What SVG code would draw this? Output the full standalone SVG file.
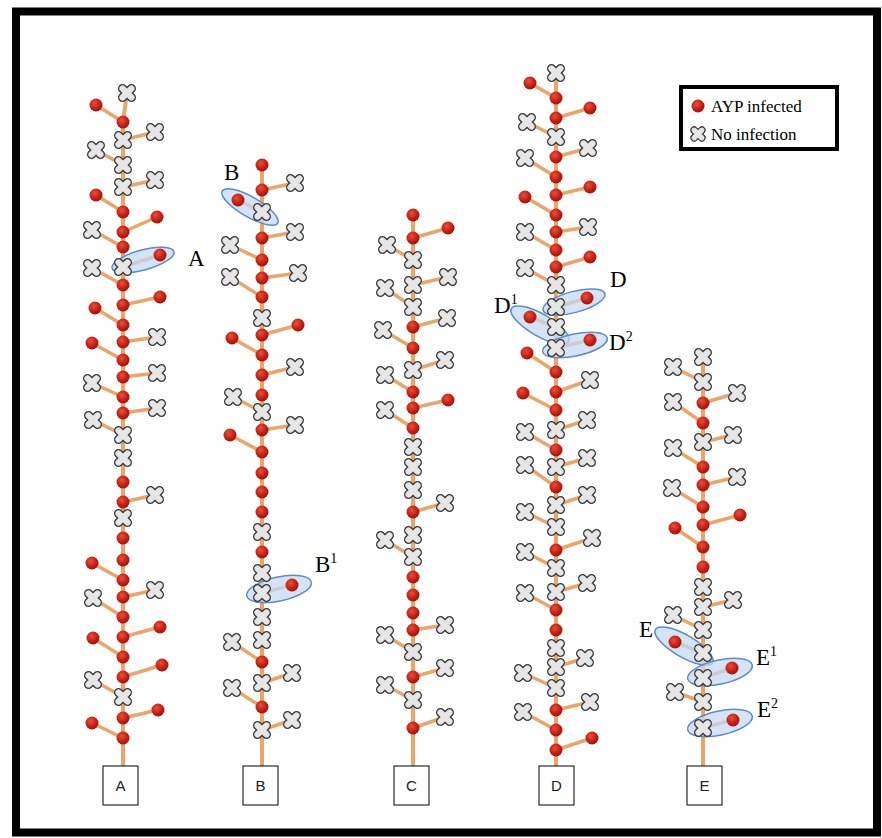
<svg xmlns="http://www.w3.org/2000/svg" xmlns:xlink="http://www.w3.org/1999/xlink" width="882" height="838" viewBox="0 0 882 838">
<style>
.st{stroke:#EBA56B;stroke-width:4;fill:none;stroke-linecap:round}
.br{stroke:#EBA56B;stroke-width:3.5;fill:none;stroke-linecap:round}
.hl{fill:#C6D9F1;fill-opacity:0.75;stroke:#5B8BC9;stroke-width:1.5}
.lbl{font-family:"Liberation Serif",serif;font-size:23px;fill:#000}
.sup{font-size:14px}
.box{fill:#fff;stroke:#000;stroke-width:1}
.bt{font-family:"Liberation Sans",sans-serif;font-size:15px;text-anchor:middle;fill:#222}
.lg{font-family:"Liberation Serif",serif;font-size:17px;fill:#000}
</style>
<defs>
<radialGradient id="rg" cx="0.4" cy="0.35" r="0.7">
<stop offset="0" stop-color="#E8503A"/>
<stop offset="0.6" stop-color="#C61E14"/>
<stop offset="1" stop-color="#9A1008"/>
</radialGradient>
<g id="R"><circle r="6.5" fill="url(#rg)"/></g>
<g id="X">
<path d="M-4.5,-4.5L4.5,4.5M4.5,-4.5L-4.5,4.5" stroke="#3A3A3A" stroke-width="9" stroke-linecap="round" fill="none"/>
<path d="M-4.5,-4.5L4.5,4.5M4.5,-4.5L-4.5,4.5" stroke="#E6E6E6" stroke-width="6.2" stroke-linecap="round" fill="none"/>
</g>
</defs>
<rect x="0" y="0" width="882" height="838" fill="#fff"/>
<rect x="16" y="11.5" width="861" height="821" fill="none" stroke="#000" stroke-width="8"/>

<g id="connectors">
<!-- A -->
<polyline class="st" points="127,93 123,122 123,766"/>
<path class="br" d="M96,105L123,122"/><path class="br" d="M123,140L155,132"/><path class="br" d="M96,150L123,165"/><path class="br" d="M123,187L155,180"/>
<path class="br" d="M96,195L123,212"/><path class="br" d="M123,232L157,217"/><path class="br" d="M92,230L123,247"/><path class="br" d="M123,267L160,255"/>
<path class="br" d="M92,268L123,285"/><path class="br" d="M123,305L160,297"/><path class="br" d="M95,308L123,325"/><path class="br" d="M123,342L157,337"/>
<path class="br" d="M92,343L123,360"/><path class="br" d="M123,377L157,373"/><path class="br" d="M92,383L123,397"/><path class="br" d="M123,413L157,408"/>
<path class="br" d="M93,420L123,435"/><path class="br" d="M123,502L155,495"/><path class="br" d="M92,563L123,580"/><path class="br" d="M123,597L155,590"/>
<path class="br" d="M93,598L123,617"/><path class="br" d="M123,637L160,627"/><path class="br" d="M93,638L123,657"/><path class="br" d="M123,677L162,665"/>
<path class="br" d="M93,680L123,697"/><path class="br" d="M123,718L158,710"/><path class="br" d="M92,723L123,738"/>
<!-- B -->
<line class="st" x1="262" y1="165" x2="262" y2="766"/>
<path class="br" d="M262,190L295,183"/><path class="br" d="M238,200L262,212"/><path class="br" d="M262,238L295,232"/><path class="br" d="M230,245L262,260"/>
<path class="br" d="M262,278L298,273"/><path class="br" d="M230,277L262,297"/><path class="br" d="M262,335L298,325"/><path class="br" d="M232,338L262,355"/>
<path class="br" d="M262,375L295,367"/><path class="br" d="M233,397L262,412"/><path class="br" d="M262,430L295,425"/><path class="br" d="M230,435L262,452"/>
<path class="br" d="M262,593L292,585"/><path class="br" d="M232,642L262,662"/><path class="br" d="M262,683L292,673"/><path class="br" d="M232,688L262,707"/>
<path class="br" d="M262,730L292,720"/>
<!-- C -->
<line class="st" x1="413" y1="215" x2="413" y2="766"/>
<path class="br" d="M413,238L448,228"/><path class="br" d="M387,245L413,260"/><path class="br" d="M413,285L448,277"/><path class="br" d="M385,288L413,307"/>
<path class="br" d="M413,327L447,318"/><path class="br" d="M383,330L413,348"/><path class="br" d="M413,370L445,360"/><path class="br" d="M385,375L413,392"/>
<path class="br" d="M413,408L448,400"/><path class="br" d="M385,410L413,428"/><path class="br" d="M413,512L445,503"/><path class="br" d="M385,540L413,557"/>
<path class="br" d="M413,630L445,625"/><path class="br" d="M385,635L413,652"/><path class="br" d="M413,677L445,668"/><path class="br" d="M385,685L413,700"/>
<path class="br" d="M413,728L445,717"/>
<!-- D -->
<line class="st" x1="556" y1="73" x2="556" y2="766"/>
<path class="br" d="M530,83L556,98"/><path class="br" d="M556,118L590,108"/><path class="br" d="M527,122L556,137"/><path class="br" d="M556,157L588,148"/>
<path class="br" d="M525,158L556,177"/><path class="br" d="M556,195L590,187"/><path class="br" d="M525,197L556,215"/><path class="br" d="M556,232L588,227"/>
<path class="br" d="M525,232L556,250"/><path class="br" d="M556,267L590,257"/><path class="br" d="M525,268L556,285"/><path class="br" d="M556,307L587,298"/>
<path class="br" d="M530,317L556,327"/><path class="br" d="M556,348L590,340"/><path class="br" d="M527,353L556,372"/><path class="br" d="M556,392L590,380"/>
<path class="br" d="M523,393L556,410"/><path class="br" d="M556,430L587,420"/><path class="br" d="M525,432L556,450"/><path class="br" d="M556,467L587,458"/>
<path class="br" d="M525,465L556,487"/><path class="br" d="M556,505L587,495"/><path class="br" d="M525,512L556,527"/><path class="br" d="M556,550L592,538"/>
<path class="br" d="M525,552L556,568"/><path class="br" d="M556,592L587,583"/><path class="br" d="M525,593L556,610"/><path class="br" d="M556,667L585,658"/>
<path class="br" d="M523,673L556,688"/><path class="br" d="M556,710L590,702"/><path class="br" d="M523,712L556,730"/><path class="br" d="M556,750L592,738"/>
<!-- E -->
<line class="st" x1="703" y1="357" x2="703" y2="766"/>
<path class="br" d="M673,367L703,382"/><path class="br" d="M703,403L737,393"/><path class="br" d="M673,402L703,423"/><path class="br" d="M703,442L733,435"/>
<path class="br" d="M673,448L703,467"/><path class="br" d="M703,485L737,477"/><path class="br" d="M672,488L703,507"/><path class="br" d="M703,525L740,515"/>
<path class="br" d="M675,528L703,547"/><path class="br" d="M703,607L733,600"/><path class="br" d="M673,615L703,630"/><path class="br" d="M675,642L703,653"/>
<path class="br" d="M703,678L732,668"/><path class="br" d="M675,692L703,702"/><path class="br" d="M703,728L733,720"/>
</g>

<g id="highlights">
<ellipse class="hl" cx="143" cy="260" rx="32" ry="10" transform="rotate(-15 143 260)"/>
<ellipse class="hl" cx="250" cy="207" rx="32" ry="10" transform="rotate(30 250 207)"/>
<ellipse class="hl" cx="279" cy="589" rx="33" ry="12" transform="rotate(-12 279 589)"/>
<ellipse class="hl" cx="574" cy="302" rx="32" ry="10.5" transform="rotate(-15 574 302)"/>
<ellipse class="hl" cx="540" cy="325" rx="33" ry="11" transform="rotate(30 540 325)"/>
<ellipse class="hl" cx="575" cy="345" rx="33" ry="11" transform="rotate(-12 575 345)"/>
<ellipse class="hl" cx="684" cy="646" rx="33" ry="11" transform="rotate(30 684 646)"/>
<ellipse class="hl" cx="720" cy="672" rx="33" ry="12" transform="rotate(-12 720 672)"/>
<ellipse class="hl" cx="720" cy="723" rx="33" ry="12" transform="rotate(-12 720 723)"/>
</g>

<g id="plant-A">
<g id="A-b1"><use href="#R" x="96" y="105"/></g><g id="A-b2"><use href="#X" x="155" y="132"/></g><g id="A-b3"><use href="#X" x="96" y="150"/></g><g id="A-b4"><use href="#X" x="155" y="180"/></g>
<g id="A-b5"><use href="#R" x="96" y="195"/></g><g id="A-b6"><use href="#R" x="157" y="217"/></g><g id="A-b7"><use href="#X" x="92" y="230"/></g><g id="A-b8"><use href="#R" x="160" y="255"/></g>
<g id="A-b9"><use href="#X" x="92" y="268"/></g><g id="A-b10"><use href="#R" x="160" y="297"/></g><g id="A-b11"><use href="#R" x="95" y="308"/></g><g id="A-b12"><use href="#X" x="157" y="337"/></g>
<g id="A-b13"><use href="#R" x="92" y="343"/></g><g id="A-b14"><use href="#X" x="157" y="373"/></g><g id="A-b15"><use href="#X" x="92" y="383"/></g><g id="A-b16"><use href="#X" x="157" y="408"/></g>
<g id="A-b17"><use href="#X" x="93" y="420"/></g><g id="A-b18"><use href="#X" x="155" y="495"/></g><g id="A-b19"><use href="#R" x="92" y="563"/></g><g id="A-b20"><use href="#X" x="155" y="590"/></g>
<g id="A-b21"><use href="#X" x="93" y="598"/></g><g id="A-b22"><use href="#R" x="160" y="627"/></g><g id="A-b23"><use href="#R" x="93" y="638"/></g><g id="A-b24"><use href="#R" x="162" y="665"/></g>
<g id="A-b25"><use href="#X" x="93" y="680"/></g><g id="A-b26"><use href="#R" x="158" y="710"/></g><g id="A-b27"><use href="#R" x="92" y="723"/></g>
<g id="A-s1"><use href="#X" x="127" y="93"/></g><g id="A-s2"><use href="#R" x="123" y="122"/></g><g id="A-s3"><use href="#X" x="123" y="140"/></g><g id="A-s4"><use href="#X" x="123" y="165"/></g>
<g id="A-s5"><use href="#X" x="123" y="187"/></g><g id="A-s6"><use href="#R" x="123" y="212"/></g><g id="A-s7"><use href="#R" x="123" y="232"/></g><g id="A-s8"><use href="#R" x="123" y="247"/></g>
<g id="A-s9"><use href="#X" x="123" y="267"/></g><g id="A-s10"><use href="#R" x="123" y="285"/></g><g id="A-s11"><use href="#R" x="123" y="305"/></g><g id="A-s12"><use href="#R" x="123" y="325"/></g>
<g id="A-s13"><use href="#R" x="123" y="342"/></g><g id="A-s14"><use href="#R" x="123" y="360"/></g><g id="A-s15"><use href="#R" x="123" y="377"/></g><g id="A-s16"><use href="#R" x="123" y="397"/></g>
<g id="A-s17"><use href="#R" x="123" y="413"/></g><g id="A-s18"><use href="#X" x="123" y="435"/></g><g id="A-s19"><use href="#X" x="123" y="458"/></g><g id="A-s20"><use href="#R" x="123" y="482"/></g>
<g id="A-s21"><use href="#R" x="123" y="502"/></g><g id="A-s22"><use href="#X" x="123" y="518"/></g><g id="A-s23"><use href="#R" x="123" y="538"/></g><g id="A-s24"><use href="#R" x="123" y="560"/></g>
<g id="A-s25"><use href="#R" x="123" y="580"/></g><g id="A-s26"><use href="#R" x="123" y="597"/></g><g id="A-s27"><use href="#R" x="123" y="617"/></g><g id="A-s28"><use href="#R" x="123" y="637"/></g>
<g id="A-s29"><use href="#R" x="123" y="657"/></g><g id="A-s30"><use href="#R" x="123" y="677"/></g><g id="A-s31"><use href="#X" x="123" y="697"/></g><g id="A-s32"><use href="#R" x="123" y="718"/></g>
<g id="A-s33"><use href="#R" x="123" y="738"/></g>
</g>

<g id="plant-B">
<g id="B-b1"><use href="#X" x="295" y="183"/></g><g id="B-b2"><use href="#R" x="238" y="200"/></g><g id="B-b3"><use href="#X" x="295" y="232"/></g><g id="B-b4"><use href="#X" x="230" y="245"/></g>
<g id="B-b5"><use href="#X" x="298" y="273"/></g><g id="B-b6"><use href="#X" x="230" y="277"/></g><g id="B-b7"><use href="#R" x="298" y="325"/></g><g id="B-b8"><use href="#R" x="232" y="338"/></g>
<g id="B-b9"><use href="#X" x="295" y="367"/></g><g id="B-b10"><use href="#X" x="233" y="397"/></g><g id="B-b11"><use href="#X" x="295" y="425"/></g><g id="B-b12"><use href="#R" x="230" y="435"/></g>
<g id="B-b13"><use href="#R" x="292" y="585"/></g><g id="B-b14"><use href="#X" x="232" y="642"/></g><g id="B-b15"><use href="#X" x="292" y="673"/></g><g id="B-b16"><use href="#X" x="232" y="688"/></g>
<g id="B-b17"><use href="#X" x="292" y="720"/></g>
<g id="B-s1"><use href="#R" x="262" y="165"/></g><g id="B-s2"><use href="#R" x="262" y="190"/></g><g id="B-s3"><use href="#X" x="262" y="212"/></g><g id="B-s4"><use href="#R" x="262" y="238"/></g>
<g id="B-s5"><use href="#R" x="262" y="260"/></g><g id="B-s6"><use href="#R" x="262" y="278"/></g><g id="B-s7"><use href="#R" x="262" y="297"/></g><g id="B-s8"><use href="#X" x="262" y="318"/></g>
<g id="B-s9"><use href="#R" x="262" y="335"/></g><g id="B-s10"><use href="#R" x="262" y="355"/></g><g id="B-s11"><use href="#R" x="262" y="375"/></g><g id="B-s12"><use href="#R" x="262" y="395"/></g>
<g id="B-s13"><use href="#X" x="262" y="412"/></g><g id="B-s14"><use href="#R" x="262" y="430"/></g><g id="B-s15"><use href="#R" x="262" y="452"/></g><g id="B-s16"><use href="#R" x="262" y="473"/></g>
<g id="B-s17"><use href="#R" x="262" y="492"/></g><g id="B-s18"><use href="#R" x="262" y="512"/></g><g id="B-s19"><use href="#X" x="262" y="532"/></g><g id="B-s20"><use href="#R" x="262" y="552"/></g>
<g id="B-s21"><use href="#X" x="262" y="573"/></g><g id="B-s22"><use href="#X" x="262" y="593"/></g><g id="B-s23"><use href="#X" x="262" y="617"/></g><g id="B-s24"><use href="#X" x="262" y="640"/></g>
<g id="B-s25"><use href="#R" x="262" y="662"/></g><g id="B-s26"><use href="#X" x="262" y="683"/></g><g id="B-s27"><use href="#R" x="262" y="707"/></g><g id="B-s28"><use href="#X" x="262" y="730"/></g>
</g>

<g id="plant-C">
<g id="C-b1"><use href="#R" x="448" y="228"/></g><g id="C-b2"><use href="#X" x="387" y="245"/></g><g id="C-b3"><use href="#X" x="448" y="277"/></g><g id="C-b4"><use href="#X" x="385" y="288"/></g>
<g id="C-b5"><use href="#X" x="447" y="318"/></g><g id="C-b6"><use href="#X" x="383" y="330"/></g><g id="C-b7"><use href="#X" x="445" y="360"/></g><g id="C-b8"><use href="#X" x="385" y="375"/></g>
<g id="C-b9"><use href="#R" x="448" y="400"/></g><g id="C-b10"><use href="#X" x="385" y="410"/></g><g id="C-b11"><use href="#X" x="445" y="503"/></g><g id="C-b12"><use href="#X" x="385" y="540"/></g>
<g id="C-b13"><use href="#X" x="445" y="625"/></g><g id="C-b14"><use href="#X" x="385" y="635"/></g><g id="C-b15"><use href="#X" x="445" y="668"/></g><g id="C-b16"><use href="#X" x="385" y="685"/></g>
<g id="C-b17"><use href="#X" x="445" y="717"/></g>
<g id="C-s1"><use href="#R" x="413" y="215"/></g><g id="C-s2"><use href="#R" x="413" y="238"/></g><g id="C-s3"><use href="#X" x="413" y="260"/></g><g id="C-s4"><use href="#X" x="413" y="285"/></g>
<g id="C-s5"><use href="#X" x="413" y="307"/></g><g id="C-s6"><use href="#R" x="413" y="327"/></g><g id="C-s7"><use href="#R" x="413" y="348"/></g><g id="C-s8"><use href="#X" x="413" y="370"/></g>
<g id="C-s9"><use href="#R" x="413" y="392"/></g><g id="C-s10"><use href="#R" x="413" y="408"/></g><g id="C-s11"><use href="#R" x="413" y="428"/></g><g id="C-s12"><use href="#X" x="413" y="447"/></g>
<g id="C-s13"><use href="#X" x="413" y="467"/></g><g id="C-s14"><use href="#X" x="413" y="490"/></g><g id="C-s15"><use href="#R" x="413" y="512"/></g><g id="C-s16"><use href="#X" x="413" y="535"/></g>
<g id="C-s17"><use href="#X" x="413" y="557"/></g><g id="C-s18"><use href="#R" x="413" y="577"/></g><g id="C-s19"><use href="#R" x="413" y="595"/></g><g id="C-s20"><use href="#R" x="413" y="613"/></g>
<g id="C-s21"><use href="#R" x="413" y="630"/></g><g id="C-s22"><use href="#X" x="413" y="652"/></g><g id="C-s23"><use href="#R" x="413" y="677"/></g><g id="C-s24"><use href="#X" x="413" y="700"/></g>
<g id="C-s25"><use href="#R" x="413" y="728"/></g>
</g>

<g id="plant-D">
<g id="D-b1"><use href="#R" x="530" y="83"/></g><g id="D-b2"><use href="#R" x="590" y="108"/></g><g id="D-b3"><use href="#X" x="527" y="122"/></g><g id="D-b4"><use href="#X" x="588" y="148"/></g>
<g id="D-b5"><use href="#X" x="525" y="158"/></g><g id="D-b6"><use href="#R" x="590" y="187"/></g><g id="D-b7"><use href="#R" x="525" y="197"/></g><g id="D-b8"><use href="#X" x="588" y="227"/></g>
<g id="D-b9"><use href="#X" x="525" y="232"/></g><g id="D-b10"><use href="#R" x="590" y="257"/></g><g id="D-b11"><use href="#X" x="525" y="268"/></g><g id="D-b12"><use href="#R" x="587" y="298"/></g>
<g id="D-b13"><use href="#R" x="530" y="317"/></g><g id="D-b14"><use href="#R" x="590" y="340"/></g><g id="D-b15"><use href="#R" x="527" y="353"/></g><g id="D-b16"><use href="#X" x="590" y="380"/></g>
<g id="D-b17"><use href="#R" x="523" y="393"/></g><g id="D-b18"><use href="#X" x="587" y="420"/></g><g id="D-b19"><use href="#X" x="525" y="432"/></g><g id="D-b20"><use href="#X" x="587" y="458"/></g>
<g id="D-b21"><use href="#X" x="525" y="465"/></g><g id="D-b22"><use href="#X" x="587" y="495"/></g><g id="D-b23"><use href="#X" x="525" y="512"/></g><g id="D-b24"><use href="#X" x="592" y="538"/></g>
<g id="D-b25"><use href="#X" x="525" y="552"/></g><g id="D-b26"><use href="#X" x="587" y="583"/></g><g id="D-b27"><use href="#X" x="525" y="593"/></g><g id="D-b28"><use href="#X" x="585" y="658"/></g>
<g id="D-b29"><use href="#X" x="523" y="673"/></g><g id="D-b30"><use href="#X" x="590" y="702"/></g><g id="D-b31"><use href="#X" x="523" y="712"/></g><g id="D-b32"><use href="#R" x="592" y="738"/></g>
<g id="D-s1"><use href="#X" x="556" y="73"/></g><g id="D-s2"><use href="#R" x="556" y="98"/></g><g id="D-s3"><use href="#R" x="556" y="118"/></g><g id="D-s4"><use href="#X" x="556" y="137"/></g>
<g id="D-s5"><use href="#R" x="556" y="157"/></g><g id="D-s6"><use href="#R" x="556" y="177"/></g><g id="D-s7"><use href="#R" x="556" y="195"/></g><g id="D-s8"><use href="#R" x="556" y="215"/></g>
<g id="D-s9"><use href="#R" x="556" y="232"/></g><g id="D-s10"><use href="#R" x="556" y="250"/></g><g id="D-s11"><use href="#R" x="556" y="267"/></g><g id="D-s12"><use href="#X" x="556" y="285"/></g>
<g id="D-s13"><use href="#X" x="556" y="307"/></g><g id="D-s14"><use href="#X" x="556" y="327"/></g><g id="D-s15"><use href="#X" x="556" y="348"/></g><g id="D-s16"><use href="#R" x="556" y="372"/></g>
<g id="D-s17"><use href="#R" x="556" y="392"/></g><g id="D-s18"><use href="#R" x="556" y="410"/></g><g id="D-s19"><use href="#X" x="556" y="430"/></g><g id="D-s20"><use href="#R" x="556" y="450"/></g>
<g id="D-s21"><use href="#X" x="556" y="467"/></g><g id="D-s22"><use href="#R" x="556" y="487"/></g><g id="D-s23"><use href="#X" x="556" y="505"/></g><g id="D-s24"><use href="#X" x="556" y="527"/></g>
<g id="D-s25"><use href="#R" x="556" y="550"/></g><g id="D-s26"><use href="#X" x="556" y="568"/></g><g id="D-s27"><use href="#X" x="556" y="592"/></g><g id="D-s28"><use href="#R" x="556" y="610"/></g>
<g id="D-s29"><use href="#R" x="556" y="630"/></g><g id="D-s30"><use href="#X" x="556" y="648"/></g><g id="D-s31"><use href="#X" x="556" y="667"/></g><g id="D-s32"><use href="#X" x="556" y="688"/></g>
<g id="D-s33"><use href="#R" x="556" y="710"/></g><g id="D-s34"><use href="#R" x="556" y="730"/></g><g id="D-s35"><use href="#R" x="556" y="750"/></g>
</g>

<g id="plant-E">
<g id="E-b1"><use href="#X" x="673" y="367"/></g><g id="E-b2"><use href="#X" x="737" y="393"/></g><g id="E-b3"><use href="#X" x="673" y="402"/></g><g id="E-b4"><use href="#X" x="733" y="435"/></g>
<g id="E-b5"><use href="#X" x="673" y="448"/></g><g id="E-b6"><use href="#X" x="737" y="477"/></g><g id="E-b7"><use href="#X" x="672" y="488"/></g><g id="E-b8"><use href="#R" x="740" y="515"/></g>
<g id="E-b9"><use href="#R" x="675" y="528"/></g><g id="E-b10"><use href="#X" x="733" y="600"/></g><g id="E-b11"><use href="#X" x="673" y="615"/></g><g id="E-b12"><use href="#R" x="675" y="642"/></g>
<g id="E-b13"><use href="#R" x="732" y="668"/></g><g id="E-b14"><use href="#X" x="675" y="692"/></g><g id="E-b15"><use href="#R" x="733" y="720"/></g>
<g id="E-s1"><use href="#X" x="703" y="357"/></g><g id="E-s2"><use href="#X" x="703" y="382"/></g><g id="E-s3"><use href="#R" x="703" y="403"/></g><g id="E-s4"><use href="#R" x="703" y="423"/></g>
<g id="E-s5"><use href="#X" x="703" y="442"/></g><g id="E-s6"><use href="#R" x="703" y="467"/></g><g id="E-s7"><use href="#R" x="703" y="485"/></g><g id="E-s8"><use href="#R" x="703" y="507"/></g>
<g id="E-s9"><use href="#R" x="703" y="525"/></g><g id="E-s10"><use href="#R" x="703" y="547"/></g><g id="E-s11"><use href="#R" x="703" y="567"/></g><g id="E-s12"><use href="#X" x="703" y="587"/></g>
<g id="E-s13"><use href="#X" x="703" y="607"/></g><g id="E-s14"><use href="#X" x="703" y="630"/></g><g id="E-s15"><use href="#X" x="703" y="653"/></g><g id="E-s16"><use href="#X" x="703" y="678"/></g>
<g id="E-s17"><use href="#X" x="703" y="702"/></g><g id="E-s18"><use href="#X" x="703" y="728"/></g>
</g>

<g id="boxes">
<g id="box-A"><rect class="box" x="103" y="766" width="35" height="39"/><text class="bt" x="120.5" y="791">A</text></g>
<g id="box-B"><rect class="box" x="243" y="766" width="35" height="39"/><text class="bt" x="260.5" y="791">B</text></g>
<g id="box-C"><rect class="box" x="394" y="766" width="35" height="39"/><text class="bt" x="411.5" y="791">C</text></g>
<g id="box-D"><rect class="box" x="539" y="766" width="35" height="39"/><text class="bt" x="556.5" y="791">D</text></g>
<g id="box-E"><rect class="box" x="687" y="766" width="35" height="39"/><text class="bt" x="704.5" y="791">E</text></g>
</g>

<g id="labels">
<text class="lbl" x="188" y="266">A</text>
<text class="lbl" x="224" y="180">B</text>
<text class="lbl" x="315" y="572">B<tspan class="sup" dy="-9">1</tspan></text>
<text class="lbl" x="610" y="287">D</text>
<text class="lbl" x="494" y="313">D<tspan class="sup" dy="-9">1</tspan></text>
<text class="lbl" x="609" y="350">D<tspan class="sup" dy="-9">2</tspan></text>
<text class="lbl" x="639" y="637">E</text>
<text class="lbl" x="756" y="665">E<tspan class="sup" dy="-9">1</tspan></text>
<text class="lbl" x="757" y="717">E<tspan class="sup" dy="-9">2</tspan></text>
</g>

<g id="legend">
<rect x="681" y="87" width="156" height="62" fill="#fff" stroke="#000" stroke-width="4"/>
<g id="legend-infected"><use href="#R" x="698" y="106"/><text class="lg" x="711" y="112">AYP infected</text></g>
<g id="legend-none"><g transform="translate(698 134) scale(0.85)"><use href="#X"/></g><text class="lg" x="711" y="140">No infection</text></g>
</g>
</svg>
